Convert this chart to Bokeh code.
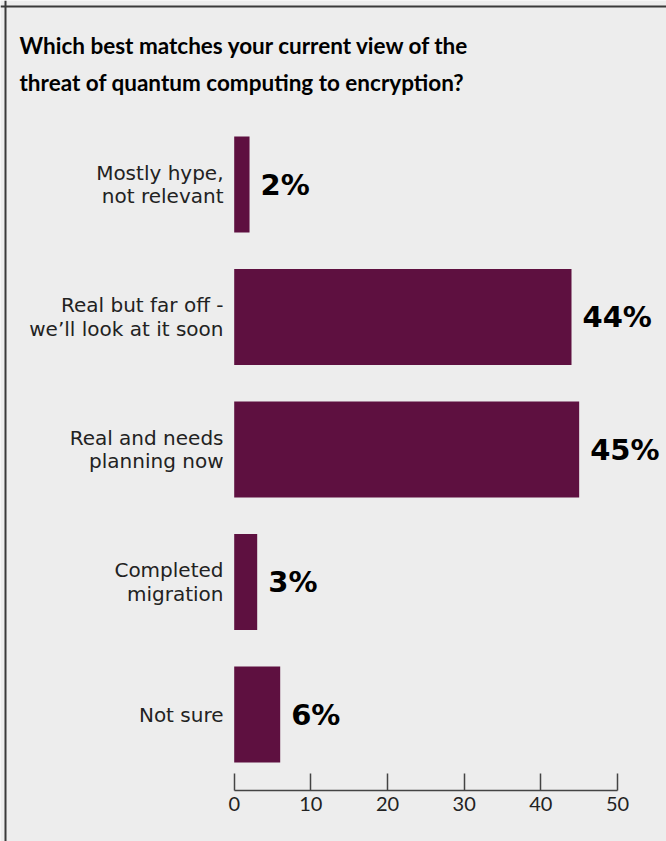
from bokeh.plotting import figure
from bokeh.models import Range1d, LinearAxis, FixedTicker, Span, ColumnDataSource
from bokeh.core.properties import value
from bokeh.embed import file_html
from bokeh.resources import INLINE

# ---- data ----
categories = [
    "Mostly hype,\nnot relevant",
    "Real but far off -\nwe\u2019ll look at it soon",
    "Real and needs\nplanning now",
    "Completed\nmigration",
    "Not sure",
]
percent = [2, 44, 45, 3, 6]
value_labels = ["2%", "44%", "45%", "3%", "6%"]
tick_values = [0, 10, 20, 30, 40, 50]
title_lines = [
    "Which best matches your current view of the",
    "threat of quantum computing to encryption?",
]

W, H = 666, 841
BG = "#ededed"
BAR = "#5e1040"
TITLE_FONT = "Lato"
LABEL_FONT = "DejaVu Sans"

# pixel geometry helpers (layout only)
X0_PX, PX_PER_UNIT = 233.7, 7.666
Y0_PX, PX_PER_ROW = 184.0, 132.5

def px_x(px):
    return (px - X0_PX) / PX_PER_UNIT

def px_y(px):
    return (px - Y0_PX) / PX_PER_ROW

p = figure(
    width=W, height=H,
    x_range=Range1d(px_x(0), px_x(W)),
    y_range=Range1d(px_y(H), px_y(0)),
    x_axis_type=None, y_axis_type=None,
    toolbar_location=None, output_backend="svg",
    min_border=0,
)
p.background_fill_color = BG
p.border_fill_color = BG
p.outline_line_color = None
p.grid.visible = False

idx = list(range(len(categories)))
src = ColumnDataSource(dict(y=idx, v=percent, cat=categories, lab=value_labels))

p.hbar(y="y", left=0, right="v", height=96 / PX_PER_ROW, source=src,
       fill_color=BAR, line_color=None)

# category labels
p.text(x=px_x(223), y="y", text="cat", source=src,
       text_align="right", text_baseline="middle",
       text_font=value(LABEL_FONT), text_font_size="20px", text_color="#222222",
       text_line_height=0.99)

# value labels
p.text(x="v", y="y", text="lab", source=src, x_offset=11,
       text_align="left", text_baseline="middle",
       text_font=value(LABEL_FONT), text_font_style="bold", text_font_size="29px",
       text_color="#000000")

# title
for i, line in enumerate(title_lines):
    p.text(x=[px_x(19)], y=[px_y(45 + 37 * i)], text=[line],
           text_align="left", text_baseline="alphabetic",
           text_font=value(TITLE_FONT), text_font_style="bold", text_font_size="22.5px",
           text_color="#000000")

# x axis
ax = LinearAxis(fixed_location=px_y(790), bounds=(0, 50),
                ticker=FixedTicker(ticks=tick_values))
ax.axis_line_color = "#444444"
ax.axis_line_width = 1.5
ax.major_tick_line_color = "#444444"
ax.major_tick_line_width = 1.5
ax.major_tick_in = 17
ax.major_tick_out = 0
ax.minor_tick_line_color = None
ax.major_label_standoff = 6
ax.major_label_text_font = TITLE_FONT
ax.major_label_text_font_size = "20px"
ax.major_label_text_color = "#222222"
p.add_layout(ax, "below")

# frame border lines (top & left)
p.add_layout(Span(location=px_x(5), dimension="height", line_color="#3a3a3a", line_width=2))
p.add_layout(Span(location=px_y(6), dimension="width", line_color="#3a3a3a", line_width=2))

open("out.html", "w").write(file_html(p, INLINE))
